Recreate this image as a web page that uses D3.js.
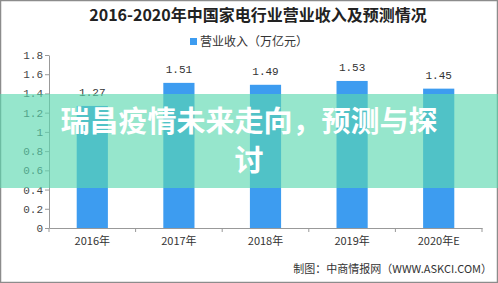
<!DOCTYPE html>
<html><head><meta charset="utf-8">
<script src="https://cdn.jsdelivr.net/npm/d3@7"></script>
<style>body{margin:0;background:#fff}svg{display:block}</style>
</head><body>
<svg id="c" width="498" height="283"></svg>
<script>
const categories = ["2016年","2017年","2018年","2019年","2020年E"];
const revenue = [1.27, 1.51, 1.49, 1.53, 1.45];
const yTicks = [0,0.2,0.4,0.6,0.8,1,1.2,1.4,1.6,1.8];
const titleText = "2016-2020年中国家电行业营业收入及预测情况";
const legendText = "营业收入（万亿元）";
const sourceText = "制图：中商情报网（WWW.ASKCI.COM）";
const overlayLines = ["瑞昌疫情未来走向，预测与探","讨"];

const W=498,H=283;
const svg=d3.select("#c");
const m={l:49,r:482,t:55,b:228};
const x=d3.scaleBand().domain(categories).range([m.l,m.r]).paddingInner(0.64).paddingOuter(0.32);
const y=d3.scaleLinear().domain([0,1.8]).range([m.b,m.t]);
const cjk="'Noto Sans CJK SC', sans-serif";

// frame
svg.append("rect").attr("x",0.5).attr("y",0.5).attr("width",W-1).attr("height",H-1).attr("fill","#fff").attr("stroke","#8c8c8c").attr("stroke-width",1.5);

// title
svg.append("text").attr("x",258).attr("y",21).attr("text-anchor","middle")
  .attr("font-family",cjk).attr("font-weight","bold").attr("font-size",16).attr("fill","#222").text(titleText);
// legend
svg.append("rect").attr("x",190).attr("y",38).attr("width",7).attr("height",7).attr("fill","#3d9cf0");
svg.append("text").attr("x",200).attr("y",46).attr("font-family",cjk).attr("font-size",12).attr("fill","#333").text(legendText);

// y axis
const ya=svg.append("g").attr("transform",`translate(${m.l},0)`)
  .call(d3.axisLeft(y).tickValues(yTicks).tickSize(4).tickSizeOuter(0).tickFormat(d=>d3.format("~g")(d)));
ya.select(".domain").attr("stroke","#999");
ya.selectAll(".tick line").attr("stroke","#999");
ya.selectAll(".tick text").attr("font-family","'Liberation Mono', monospace").attr("font-size",11).attr("fill","#444").attr("x",-6);

// x axis
const xa=svg.append("g").attr("transform",`translate(0,${m.b})`)
  .call(d3.axisBottom(x).tickSize(0).tickSizeOuter(0));
xa.select(".domain").attr("stroke","#999");
xa.selectAll(".tick text").attr("font-family",cjk).attr("font-size",11).attr("fill","#333").attr("dy","1.3em");
const bounds=d3.range(categories.length+1).map(i=>m.l+i*(m.r-m.l)/categories.length);
svg.append("g").selectAll("line").data(bounds).join("line")
  .attr("x1",d=>d).attr("x2",d=>d).attr("y1",m.b).attr("y2",m.b+4).attr("stroke","#999");

// bars
svg.append("g").selectAll("rect").data(revenue).join("rect")
  .attr("x",(d,i)=>x(categories[i])).attr("width",x.bandwidth())
  .attr("y",d=>y(d)).attr("height",d=>y(0)-y(d)).attr("fill","#3d9cf0");
svg.append("g").selectAll("text").data(revenue).join("text")
  .attr("x",(d,i)=>x(categories[i])+x.bandwidth()/2).attr("y",d=>y(d)-10)
  .attr("text-anchor","middle").attr("font-family","'Liberation Mono', monospace").attr("font-size",11).attr("fill","#333")
  .text(d=>d3.format(".2f")(d));

// source
svg.append("text").attr("x",492).attr("y",273).attr("text-anchor","end")
  .attr("font-family",cjk).attr("font-size",11).attr("fill","#333").text(sourceText);

// overlay band
svg.append("rect").attr("x",0).attr("y",94).attr("width",W).attr("height",94).attr("fill","rgba(91,216,175,0.64)");
svg.append("g").selectAll("text").data(overlayLines).join("text")
  .attr("x",249).attr("y",(d,i)=>132+i*39).attr("text-anchor","middle")
  .attr("font-family",cjk).attr("font-weight","bold").attr("font-size",29).attr("fill","#fff").text(d=>d);
</script>
</body></html>
